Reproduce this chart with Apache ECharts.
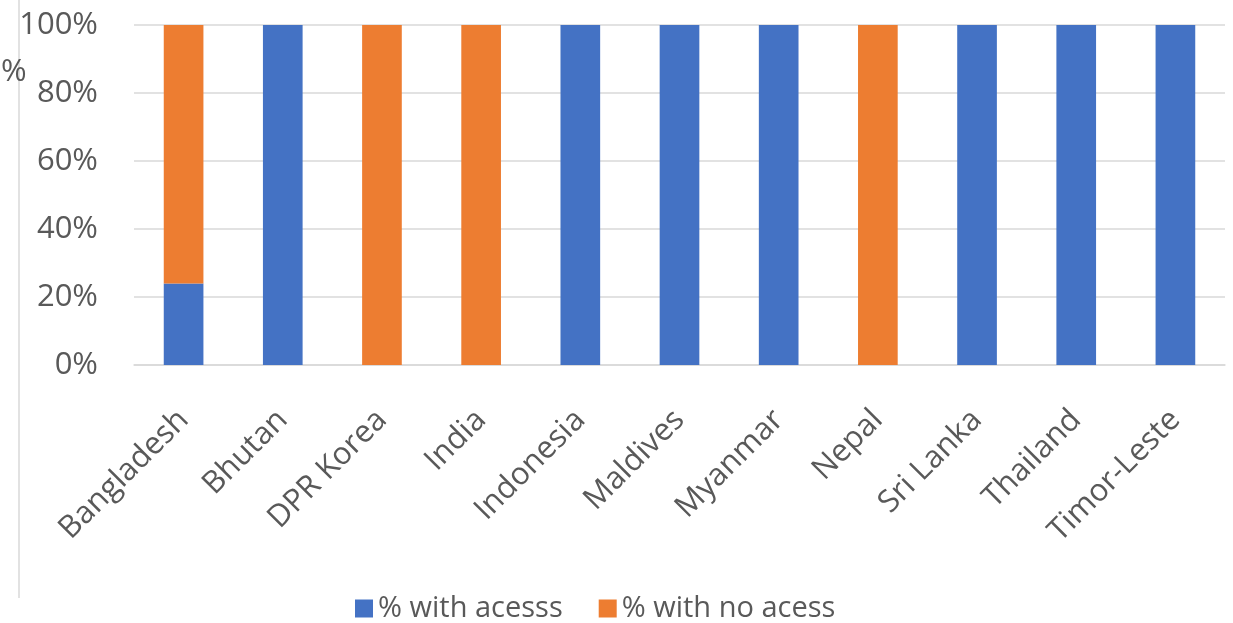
<!DOCTYPE html>
<html>
<head>
<meta charset="utf-8">
<script src="https://cdn.jsdelivr.net/npm/echarts@6/dist/echarts.min.js"></script>
<style>
  html, body { margin: 0; padding: 0; background: #fff; }
  #chart { width: 1233px; height: 623px; }
</style>
</head>
<body>
<div id="chart"></div>
<script>
const countries = ['Bangladesh', 'Bhutan', 'DPR Korea', 'India', 'Indonesia', 'Maldives',
    'Myanmar', 'Nepal', 'Sri Lanka', 'Thailand', 'Timor-Leste'];
const withAccess = [24, 100, 0, 0, 100, 100, 100, 0, 100, 100, 100];
const noAccess = [76, 0, 100, 100, 0, 0, 0, 100, 0, 0, 0];
const yTicks = [0, 20, 40, 60, 80, 100];

const textColor = '#595959';
const font = 'Open Sans';

const chart = echarts.init(document.getElementById('chart'));

chart.setOption({
    animation: false,
    textStyle: { fontFamily: font },
    grid: { left: 134, right: 8, top: 25, bottom: 258 },
    // y axis title, sits left of the tick labels
    title: {
        text: '%',
        left: -4,
        top: 52,
        textStyle: { fontSize: 31, fontWeight: 'normal', color: textColor, fontFamily: font }
    },
    legend: {
        left: 350,
        top: 589,
        itemWidth: 18,
        itemHeight: 18,
        itemGap: 36,
        icon: 'rect',
        textStyle: { fontSize: 29, color: textColor, fontFamily: font },
        data: ['% with acesss', '% with no acess']
    },
    xAxis: {
        type: 'category',
        data: countries,
        axisTick: { show: false },
        axisLine: { lineStyle: { color: '#D9D9D9', width: 1.5 } },
        axisLabel: {
            rotate: 45,
            interval: 0,
            margin: 50,
            fontSize: 31,
            color: textColor
        }
    },
    yAxis: {
        type: 'value',
        min: yTicks[0],
        max: yTicks[yTicks.length - 1],
        interval: 20,
        axisLine: { show: false },
        axisTick: { show: false },
        splitLine: { lineStyle: { color: '#D9D9D9', width: 1.5 } },
        axisLabel: {
            formatter: v => v + '%',
            fontSize: 31,
            color: textColor,
            margin: 36
        }
    },
    series: [
        {
            name: '% with acesss',
            type: 'bar',
            stack: 'total',
            barWidth: '40%',
            itemStyle: { color: '#4472C4' },
            data: withAccess
        },
        {
            name: '% with no acess',
            type: 'bar',
            stack: 'total',
            barWidth: '40%',
            itemStyle: { color: '#ED7D31' },
            data: noAccess
        }
    ],
    graphic: [{
        type: 'line',
        shape: { x1: 19, y1: 0, x2: 19, y2: 598 },
        style: { stroke: '#D9D9D9', lineWidth: 1.5 }
    }]
});
</script>
</body>
</html>
